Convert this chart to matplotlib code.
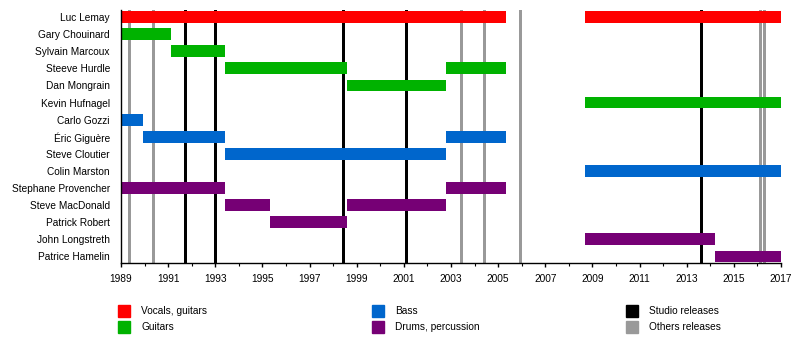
import matplotlib
matplotlib.use("Agg")
import matplotlib.pyplot as plt
from matplotlib.patches import Rectangle
from matplotlib.ticker import FixedLocator

plt.rcParams['font.family'] = ['Liberation Sans', 'DejaVu Sans']

members = ["Luc Lemay", "Gary Chouinard", "Sylvain Marcoux", "Steeve Hurdle",
           "Dan Mongrain", "Kevin Hufnagel", "Carlo Gozzi", "Éric Giguère",
           "Steve Cloutier", "Colin Marston", "Stephane Provencher",
           "Steve MacDonald", "Patrick Robert", "John Longstreth", "Patrice Hamelin"]

bar_member = ["Luc Lemay", "Luc Lemay",
              "Gary Chouinard", "Sylvain Marcoux", "Steeve Hurdle", "Steeve Hurdle",
              "Dan Mongrain", "Kevin Hufnagel",
              "Carlo Gozzi", "Éric Giguère", "Éric Giguère", "Steve Cloutier", "Colin Marston",
              "Stephane Provencher", "Stephane Provencher", "Steve MacDonald", "Steve MacDonald",
              "Patrick Robert", "John Longstreth", "Patrice Hamelin"]
bar_start = [1989.0, 2008.68,
             1989.0, 1991.1, 1993.4, 2002.77,
             1998.6, 2008.68,
             1989.0, 1989.95, 2002.77, 1993.4, 2008.68,
             1989.0, 2002.77, 1993.4, 1998.6,
             1995.3, 2008.68, 2014.22]
bar_end = [2005.33, 2017.0,
           1991.1, 1993.4, 1998.6, 2005.33,
           2002.77, 2017.0,
           1989.95, 1993.4, 2005.33, 2002.77, 2017.0,
           1993.4, 2005.33, 1995.3, 2002.77,
           1998.6, 2014.22, 2017.0]
bar_role = ["Vocals, guitars", "Vocals, guitars",
            "Guitars", "Guitars", "Guitars", "Guitars",
            "Guitars", "Guitars",
            "Bass", "Bass", "Bass", "Bass", "Bass",
            "Drums, percussion", "Drums, percussion", "Drums, percussion", "Drums, percussion",
            "Drums, percussion", "Drums, percussion", "Drums, percussion"]

studio_releases = [1991.72, 1993.0, 1998.42, 2001.1, 2013.6]
other_releases = [1989.35, 1990.37, 2003.44, 2004.41, 2005.94, 2016.12, 2016.29]

major_years = list(range(1989, 2018, 2))
minor_years = list(range(1989, 2018, 1))

role_colors = {"Vocals, guitars": "#ff0000", "Guitars": "#00b200",
               "Bass": "#0066cc", "Drums, percussion": "#760075"}
legend_items = [("Vocals, guitars", "#ff0000"), ("Guitars", "#00b200"),
                ("Bass", "#0066cc"), ("Drums, percussion", "#760075"),
                ("Studio releases", "#000000"), ("Others releases", "#999999")]

FS = 7.3
fig = plt.figure(figsize=(8, 3.52), dpi=100)
ax = fig.add_axes([121/800, 1-263/352, 660/800, 253/352])

ypos = {m: i for i, m in enumerate(members)}
lw = 3 * 72 / 100
for x in studio_releases:
    ax.axvline(x, color="#000000", lw=lw, zorder=1)
for x in other_releases:
    ax.axvline(x, color="#999999", lw=lw, zorder=1)

for m, s, e, r in zip(bar_member, bar_start, bar_end, bar_role):
    ax.barh(ypos[m], e - s, left=s, height=0.69, color=role_colors[r], zorder=2, linewidth=0)

ax.set_xlim(1989, 2017)
ax.set_ylim(14.38, -0.41)
ax.set_yticks(range(len(members)))
ax.set_yticklabels(members, fontsize=FS)
ax.tick_params(axis='y', length=0, pad=8)
ax.xaxis.set_major_locator(FixedLocator(major_years))
ax.xaxis.set_minor_locator(FixedLocator(minor_years))
ax.set_xticklabels([str(y) for y in major_years])
ax.tick_params(axis='x', which='major', length=3, width=1, labelsize=FS, pad=5)
ax.tick_params(axis='x', which='minor', length=2, width=0.8)
ax.spines['top'].set_visible(False)
ax.spines['right'].set_visible(False)
ax.spines['left'].set_linewidth(1)
ax.spines['bottom'].set_linewidth(1)

cols_x = [118, 372, 626]
rows_y = [311, 327]
for i, (label, color) in enumerate(legend_items):
    cx = cols_x[i // 2]
    cy = rows_y[i % 2]
    fig.patches.append(Rectangle((cx/800, 1-(cy+6)/352), 12/800, 12/352,
                                 transform=fig.transFigure, color=color))
    fig.text((cx+23)/800, 1-cy/352, label, fontsize=FS, va='center', ha='left')

fig.savefig("out.png", dpi=100)
